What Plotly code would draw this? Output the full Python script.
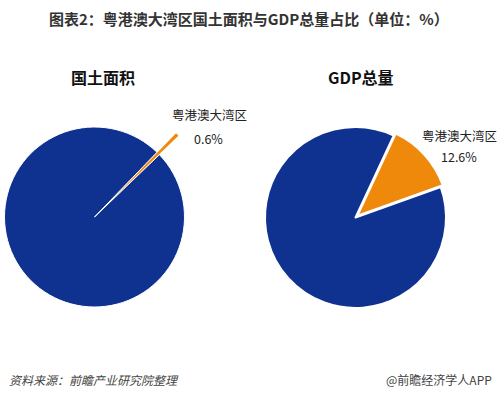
import plotly.graph_objects as go

# ---- data ----
categories = ["粤港澳大湾区", "其他"]
land_share = [0.6, 99.4]
gdp_share = [12.6, 87.4]
pie_titles = ["国土面积", "GDP总量"]
label_pct = ["0.6%", "12.6%"]

BLUE = "#0f3190"
ORANGE = "#ef890b"
W, H = 503, 397
FONT = "Noto Sans CJK SC"


def dom(cx, cy, half):
    """domain (paper coords) for a box of half-size `half` centred at pixel (cx, cy)"""
    return dict(x=[(cx - half) / W, (cx + half) / W],
                y=[1 - (cy + half) / H, 1 - (cy - half) / H])


fig = go.Figure()

# left pie: blue with the gap of the exploded slice
fig.add_trace(go.Pie(
    labels=categories, values=land_share, sort=False, direction="clockwise",
    rotation=44, textinfo="none", hoverinfo="label+percent",
    marker=dict(colors=["#ffffff", BLUE], line=dict(color="#ffffff", width=1)),
    domain=dom(94.5, 217, 90), showlegend=False))
# left pie: exploded orange sliver (offset outward)
fig.add_trace(go.Pie(
    labels=categories, values=land_share, sort=False, direction="clockwise",
    rotation=44, textinfo="none", hoverinfo="skip",
    marker=dict(colors=[ORANGE, "rgba(0,0,0,0)"], line=dict(width=0)),
    domain=dom(113.5, 198.0, 90), showlegend=False))

# right pie
fig.add_trace(go.Pie(
    labels=categories, values=gdp_share, sort=False, direction="clockwise",
    rotation=25, textinfo="none", pull=[0.03, 0],
    marker=dict(colors=[ORANGE, BLUE], line=dict(color="#ffffff", width=2)),
    domain=dom(355.5, 217.5, 90.5 * 1.03), showlegend=False))

ann = []
ann.append(dict(text="<b>图表2：粤港澳大湾区国土面积与GDP总量占比（单位：%）</b>",
                x=249 / W, y=1 - 19 / H, font=dict(size=15, color="#333333")))
ann.append(dict(text="<b>" + pie_titles[0] + "</b>", x=103 / W, y=1 - 77 / H,
                font=dict(size=16, color="#111111")))
ann.append(dict(text="<b>" + pie_titles[1] + "</b>", x=361 / W, y=1 - 77 / H,
                font=dict(size=16, color="#111111")))
ann.append(dict(text=categories[0], x=209 / W, y=1 - 115 / H, font=dict(size=12.5, color="#222222")))
ann.append(dict(text=label_pct[0], x=208 / W, y=1 - 138 / H, font=dict(size=12.5, color="#222222")))
ann.append(dict(text=categories[0], x=459 / W, y=1 - 135 / H, font=dict(size=12.5, color="#222222")))
ann.append(dict(text=label_pct[1], x=459 / W, y=1 - 157 / H, font=dict(size=12.5, color="#222222")))
ann.append(dict(text="<i>资料来源：前瞻产业研究院整理</i>", x=7 / W, y=1 - 379 / H, xanchor="left",
                font=dict(size=12, color="#444444")))
ann.append(dict(text="@前瞻经济学人APP", x=494 / W, y=1 - 379 / H, xanchor="right",
                font=dict(size=12, color="#444444")))
for a in ann:
    a.setdefault("xanchor", "center")
    a.update(xref="paper", yref="paper", yanchor="middle", showarrow=False)

fig.update_layout(width=W, height=H, margin=dict(l=0, r=0, t=0, b=0),
                  paper_bgcolor="white", plot_bgcolor="white",
                  font=dict(family=FONT), annotations=ann)

fig.write_html("out.html", config={"displayModeBar": False},
               post_script="document.body.style.margin='0';document.body.style.overflow='hidden';")
